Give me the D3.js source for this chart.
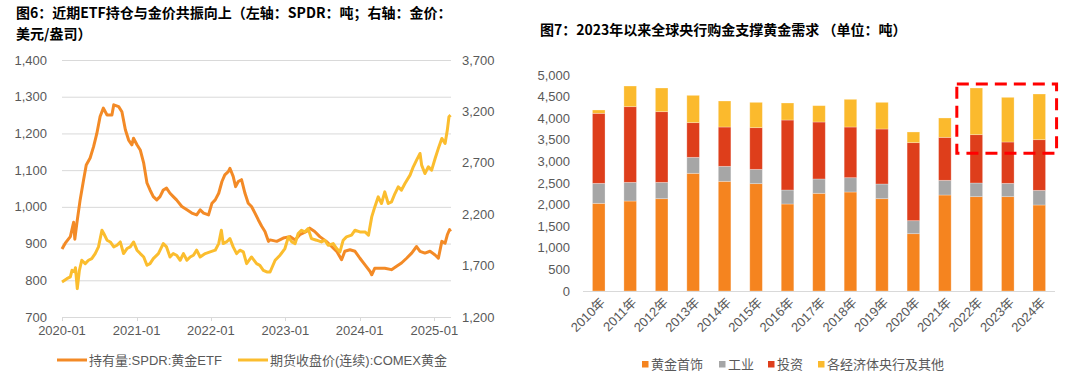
<!DOCTYPE html>
<html><head><meta charset="utf-8">
<script src="https://cdn.jsdelivr.net/npm/d3@7"></script>
<style>
html,body{margin:0;padding:0;background:#fff;}
svg{display:block;}
text{font-family:"Liberation Sans","Noto Sans CJK SC",sans-serif;}
.title{font-family:"Noto Sans CJK SC",sans-serif;font-weight:700;font-size:14px;fill:#000;}
</style></head>
<body>
<svg id="c" width="1080" height="379"></svg>
<script>
// ---------- Left chart data ----------
const etfDates = ["2020-01-01","2020-01-17","2020-02-11","2020-02-27","2020-03-04","2020-03-14","2020-03-30","2020-04-16","2020-04-29","2020-05-18","2020-06-04","2020-06-20","2020-07-06","2020-07-22","2020-08-09","2020-09-02","2020-09-11","2020-10-05","2020-10-21","2020-11-07","2020-11-23","2020-12-09","2020-12-17","2021-01-03","2021-01-19","2021-02-05","2021-02-21","2021-03-08","2021-03-24","2021-04-10","2021-04-26","2021-05-12","2021-05-28","2021-06-14","2021-06-30","2021-07-16","2021-08-11","2021-09-05","2021-09-29","2021-10-23","2021-11-09","2021-11-26","2021-12-20","2022-01-06","2022-01-22","2022-02-08","2022-02-24","2022-03-10","2022-03-27","2022-04-04","2022-04-20","2022-05-02","2022-05-15","2022-05-31","2022-06-17","2022-07-03","2022-07-19","2022-08-05","2022-08-21","2022-09-07","2022-09-23","2022-10-10","2022-10-18","2022-11-20","2022-12-22","2023-01-24","2023-02-18","2023-03-13","2023-04-15","2023-05-01","2023-05-25","2023-06-19","2023-07-21","2023-08-16","2023-09-10","2023-10-04","2023-10-20","2023-11-14","2023-12-09","2024-01-02","2024-01-27","2024-02-21","2024-02-29","2024-03-15","2024-04-09","2024-05-03","2024-06-05","2024-06-30","2024-07-24","2024-08-18","2024-09-12","2024-10-06","2024-10-23","2024-11-16","2024-12-11","2025-01-05","2025-01-21","2025-02-07","2025-02-23","2025-03-06","2025-03-17","2025-03-22"];
const etfValues = [885,901,919,958,912,956,1019,1074,1114,1133,1164,1200,1246,1269,1250,1250,1278,1273,1259,1210,1182,1169,1187,1169,1155,1119,1065,1046,1028,1019,1028,1046,1051,1037,1028,1019,1001,992,983,978,992,983,978,1010,1019,1037,1069,1087,1096,1105,1083,1055,1069,1074,1037,1010,1001,983,965,947,933,906,910,906,915,919,910,924,933,942,933,919,906,892,879,856,879,883,879,860,842,824,815,833,833,833,829,838,847,860,874,892,879,874,879,869,860,906,901,924,938,933];

const goldDates = ["2020-01-01","2020-01-25","2020-02-11","2020-02-19","2020-03-02","2020-03-07","2020-03-16","2020-03-26","2020-04-07","2020-04-24","2020-05-10","2020-05-26","2020-06-12","2020-06-28","2020-07-15","2020-07-24","2020-08-09","2020-08-25","2020-09-11","2020-09-27","2020-10-13","2020-10-29","2020-11-15","2020-12-01","2020-12-17","2021-01-03","2021-01-19","2021-02-05","2021-02-21","2021-03-08","2021-03-24","2021-04-18","2021-05-12","2021-05-28","2021-06-14","2021-06-30","2021-07-16","2021-08-03","2021-08-19","2021-09-05","2021-09-21","2021-10-07","2021-10-23","2021-11-09","2021-12-04","2021-12-28","2022-01-22","2022-02-08","2022-02-21","2022-03-02","2022-03-18","2022-04-04","2022-04-20","2022-05-07","2022-05-23","2022-06-09","2022-06-25","2022-07-19","2022-08-13","2022-08-29","2022-09-15","2022-10-02","2022-10-18","2022-11-12","2022-12-06","2022-12-30","2023-01-16","2023-02-02","2023-02-18","2023-03-05","2023-03-21","2023-04-07","2023-04-23","2023-05-09","2023-06-03","2023-06-27","2023-07-14","2023-07-30","2023-08-24","2023-09-10","2023-09-26","2023-10-12","2023-10-28","2023-11-22","2023-12-09","2024-01-02","2024-01-27","2024-02-13","2024-02-29","2024-03-15","2024-04-01","2024-04-17","2024-05-03","2024-05-20","2024-06-05","2024-06-22","2024-07-08","2024-07-24","2024-08-10","2024-09-04","2024-09-20","2024-10-06","2024-10-23","2024-10-31","2024-11-16","2024-12-03","2024-12-19","2025-01-05","2025-01-21","2025-02-07","2025-02-23","2025-03-06","2025-03-14","2025-03-22"];
const goldValues = [1541,1573,1590,1654,1640,1680,1476,1650,1752,1719,1752,1768,1817,1882,2044,2012,1947,1930,1882,1898,1930,1817,1866,1882,1930,1850,1817,1784,1703,1719,1768,1817,1914,1882,1784,1817,1801,1752,1817,1752,1784,1801,1850,1784,1817,1833,1850,1914,2044,1914,1930,1963,1882,1817,1850,1833,1719,1784,1719,1703,1654,1638,1638,1752,1801,1866,1979,1930,1914,2012,2044,2028,2060,1963,1947,1930,1947,1898,1914,1866,1833,1947,1979,1996,2044,2028,2028,1996,2174,2271,2369,2304,2417,2304,2320,2401,2466,2434,2499,2580,2661,2726,2791,2677,2596,2661,2629,2742,2840,2937,2888,3018,3148,3164];

const leftTicks = [700,800,900,1000,1100,1200,1300,1400];
const rightTicks = [1200,1700,2200,2700,3200,3700];
const xTickDates = ["2020-01-01","2021-01-01","2022-01-01","2023-01-01","2024-01-01","2025-01-01"];
const lineNames = ["持有量:SPDR:黄金ETF","期货收盘价(连续):COMEX黄金"];

// ---------- Right chart data ----------
const years = ["2010年","2011年","2012年","2013年","2014年","2015年","2016年","2017年","2018年","2019年","2020年","2021年","2022年","2023年","2024年"];
const jewelry = [2029,2083,2137,2724,2539,2485,2014,2261,2292,2137,1327,2222,2184,2184,1991];
const industry = [463,432,378,370,347,331,324,332,331,340,301,340,316,308,339];
const investment = [1621,1752,1636,803,910,965,1620,1319,1173,1273,1806,995,1119,957,1173];
const centralBanks = [77,478,548,632,602,586,394,378,641,617,247,448,1080,1034,1057];
const barNames = ["黄金首饰","工业","投资","各经济体央行及其他"];
const barTicks = [0,500,1000,1500,2000,2500,3000,3500,4000,4500,5000];
const highlightYears = ["2022年","2024年"];

const svg = d3.select("#c");
const parse = d3.utcParse("%Y-%m-%d");
const fmt = d3.format(",");
const gray = "#595959";

// ================= LEFT CHART =================
const x = d3.scaleUtc().domain([parse("2020-01-01"), parse("2025-03-24")]).range([62, 451]);
const yL = d3.scaleLinear().domain([700,1400]).range([317,60]);
const yR = d3.scaleLinear().domain([1200,3700]).range([317,60]);

svg.append("text").attr("class","title").attr("x",16).attr("y",18)
  .text("图6：近期ETF持仓与金价共振向上（左轴：SPDR：吨；右轴：金价：");
svg.append("text").attr("class","title").attr("x",16).attr("y",38.8).text("美元/盎司）");

const gL = svg.append("g");
gL.selectAll("line.grid").data(leftTicks.slice(1)).join("line")
  .attr("x1",x.range()[0]).attr("x2",x.range()[1])
  .attr("y1",d=>yL(d)+0.5).attr("y2",d=>yL(d)+0.5)
  .attr("stroke","#d9d9d9").attr("stroke-width",1);
gL.append("line").attr("x1",x.range()[0]).attr("x2",x.range()[1])
  .attr("y1",yL(700)+0.5).attr("y2",yL(700)+0.5).attr("stroke","#d9d9d9");
gL.selectAll("line.tk").data(xTickDates).join("line")
  .attr("x1",d=>Math.round(x(parse(d)))+0.5).attr("x2",d=>Math.round(x(parse(d)))+0.5)
  .attr("y1",yL(700)).attr("y2",yL(700)+4).attr("stroke","#d9d9d9");
gL.selectAll("text.xl").data(xTickDates).join("text")
  .attr("x",d=>x(parse(d))).attr("y",335).attr("text-anchor","middle")
  .attr("font-size",13).attr("fill",gray).text(d=>d.slice(0,7));
gL.selectAll("text.yl").data(leftTicks).join("text")
  .attr("x",47).attr("y",d=>yL(d)).attr("dy","0.35em").attr("text-anchor","end")
  .attr("font-size",13).attr("fill",gray).text(d=>fmt(d));
gL.selectAll("text.yr").data(rightTicks).join("text")
  .attr("x",462).attr("y",d=>yR(d)).attr("dy","0.35em").attr("text-anchor","start")
  .attr("font-size",13).attr("fill",gray).text(d=>fmt(d));

const cOrange = "#F38A26", cYellow = "#FBBD2E";
const etf = etfDates.map((d,i)=>[parse(d),etfValues[i]]);
const gold = goldDates.map((d,i)=>[parse(d),goldValues[i]]);
gL.append("path").datum(etf).attr("fill","none").attr("stroke",cOrange).attr("stroke-width",3)
  .attr("stroke-linejoin","round").attr("d",d3.line().x(d=>x(d[0])).y(d=>yL(d[1])));
gL.append("path").datum(gold).attr("fill","none").attr("stroke",cYellow).attr("stroke-width",3)
  .attr("stroke-linejoin","round").attr("d",d3.line().x(d=>x(d[0])).y(d=>yR(d[1])));

const legL = [{name:lineNames[0],c:cOrange,x:57},{name:lineNames[1],c:cYellow,x:238}];
legL.forEach(l=>{
  svg.append("line").attr("x1",l.x).attr("x2",l.x+30).attr("y1",360).attr("y2",360)
    .attr("stroke",l.c).attr("stroke-width",3);
  svg.append("text").attr("x",l.x+32).attr("y",360).attr("dy","0.35em").attr("font-size",13)
    .attr("fill",gray).text(l.name);
});

// ================= RIGHT CHART =================
svg.append("text").attr("class","title").attr("x",540).attr("y",35)
  .text("图7：2023年以来全球央行购金支撑黄金需求 （单位：吨）");

const xb = d3.scaleBand().domain(years).range([583,1055]).paddingInner(0.6).paddingOuter(0.3);
const yb = d3.scaleLinear().domain([0,5000]).range([291,75]);
const barColors = ["#F5841F","#A6A6A6","#DE3E1B","#FBBA2D"];
const rows = years.map((yr,i)=>({year:yr,s0:jewelry[i],s1:industry[i],s2:investment[i],s3:centralBanks[i]}));
const stack = d3.stack().keys(["s0","s1","s2","s3"])(rows);

const gR = svg.append("g");
stack.forEach((layer,k)=>{
  gR.selectAll(null).data(layer).join("rect")
    .attr("x",d=>xb(d.data.year)).attr("width",xb.bandwidth())
    .attr("y",d=>yb(d[1])).attr("height",d=>yb(d[0])-yb(d[1]))
    .attr("fill",barColors[k]).attr("stroke","rgba(255,255,255,0.35)").attr("stroke-width",0.8);
});
gR.append("line").attr("x1",583).attr("x2",1055).attr("y1",yb(0)+0.5).attr("y2",yb(0)+0.5)
  .attr("stroke","#d9d9d9");
gR.selectAll("text.yl").data(barTicks).join("text")
  .attr("x",570).attr("y",d=>yb(d)).attr("dy","0.35em").attr("text-anchor","end")
  .attr("font-size",13).attr("fill",gray).text(d=>fmt(d));
gR.selectAll("text.xl").data(years).join("text")
  .attr("transform",d=>`translate(${xb(d)+xb.bandwidth()/2+4},${yb(0)+9}) rotate(-45)`)
  .attr("text-anchor","end").attr("dy","0.35em")
  .attr("font-size",13).attr("fill",gray).text(d=>d);

const step = xb.step();
const hx0 = xb(highlightYears[0]) - step*0.42;
const hx1 = xb(highlightYears[1]) + xb.bandwidth() + step*0.35;
gR.append("rect").attr("x",hx0).attr("y",yb(4790)).attr("width",hx1-hx0).attr("height",yb(3190)-yb(4790))
  .attr("fill","none").attr("stroke","#FF0000").attr("stroke-width",3).attr("stroke-dasharray","12,7");

const legR = [{x:642},{x:719},{x:768},{x:818}];
barNames.forEach((n,i)=>{
  svg.append("rect").attr("x",legR[i].x).attr("y",361).attr("width",6.5).attr("height",6.5).attr("fill",barColors[i]);
  svg.append("text").attr("x",legR[i].x+9).attr("y",364.5).attr("dy","0.35em").attr("font-size",13)
    .attr("fill",gray).text(n);
});
</script>
</body></html>
